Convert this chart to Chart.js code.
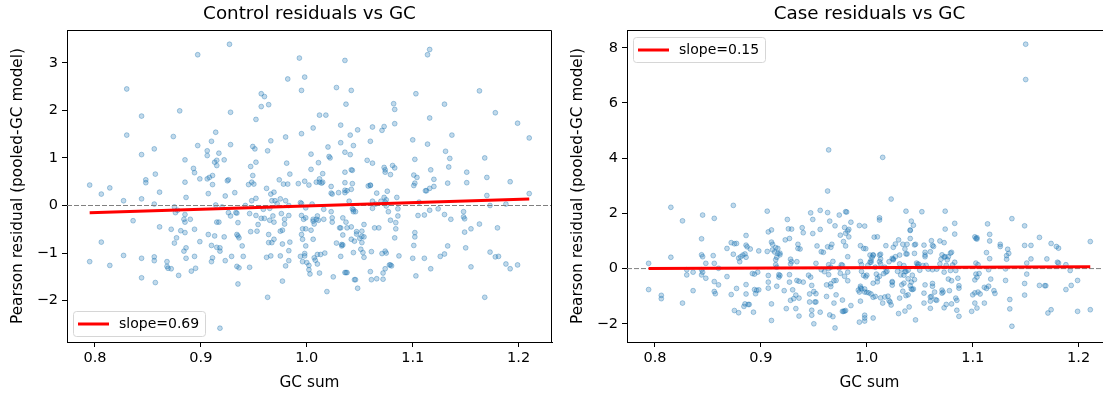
<!DOCTYPE html>
<html>
<head>
<meta charset="utf-8">
<script src="https://cdn.jsdelivr.net/npm/chart.js@4.4.1/dist/chart.umd.min.js"></script>
<style>
  html, body { margin: 0; padding: 0; background: #fff; overflow: hidden; }
  #wrap { position: relative; width: 1103px; height: 395px; overflow: hidden; }
  .panel { position: absolute; top: 0; width: 560px; height: 395px; }
</style>
</head>
<body>
<div id="wrap">
  <div class="panel" style="left:0"><canvas id="controlChart" width="560" height="395"></canvas></div>
  <div class="panel" style="left:560px"><canvas id="caseChart" width="560" height="395"></canvas></div>
</div>
<script>
// GC sum vs Pearson residual
const controlPoints = [
  [0.795,0.43],[0.795,-1.18],[0.806,0.24],[0.806,-0.77],[0.814,0.37],[0.814,-1.26],[0.827,0.10],[0.827,-1.05],
  [0.830,2.45],[0.830,1.48],[0.836,-0.32],[0.844,1.88],[0.844,0.14],[0.844,1.07],[0.844,-1.11],[0.844,-1.52],
  [0.848,0.54],[0.848,0.48],[0.856,1.19],[0.856,0.03],[0.856,-1.08],[0.856,-1.16],[0.857,-1.62],[0.857,0.66],
  [0.861,0.28],[0.861,-0.45],[0.868,-1.18],[0.868,-1.28],[0.869,-1.32],[0.872,-0.50],[0.872,-1.33],[0.874,1.45],
  [0.875,-0.03],[0.875,-0.79],[0.876,-0.15],[0.877,-0.68],[0.878,-0.10],[0.879,-1.47],[0.880,1.99],[0.881,-0.53],
  [0.884,-0.29],[0.884,-0.96],[0.885,-0.19],[0.885,0.96],[0.885,0.49],[0.886,0.17],[0.885,-0.35],[0.885,-0.57],
  [0.886,-1.11],[0.886,-0.89],[0.890,-0.29],[0.891,-1.38],[0.893,0.78],[0.894,0.69],[0.894,-0.50],[0.894,-1.07],
  [0.895,-1.32],[0.897,3.17],[0.897,1.26],[0.899,0.56],[0.899,-0.76],[0.906,1.05],[0.906,1.15],[0.906,0.56],
  [0.907,0.25],[0.907,-0.61],[0.908,0.59],[0.910,1.35],[0.910,-1.18],[0.910,-0.84],[0.911,0.63],[0.911,-1.10],
  [0.911,0.44],[0.913,0.91],[0.913,-0.64],[0.914,1.54],[0.914,0.01],[0.915,0.84],[0.915,0.95],[0.915,-0.35],
  [0.915,-0.88],[0.917,1.10],[0.917,-0.35],[0.918,-0.89],[0.918,-2.58],[0.918,-0.96],[0.920,-0.03],[0.922,0.96],
  [0.922,-0.66],[0.923,-1.16],[0.923,0.20],[0.925,0.52],[0.926,0.54],[0.927,3.39],[0.926,-0.15],[0.928,1.96],
  [0.928,1.28],[0.928,-0.22],[0.929,-1.07],[0.932,0.27],[0.933,-0.15],[0.934,-1.28],[0.934,-0.61],[0.934,-0.16],
  [0.935,-0.64],[0.935,-1.65],[0.935,-0.36],[0.936,-0.68],[0.936,-1.31],[0.939,-0.85],[0.940,-1.07],[0.942,0.00],
  [0.945,0.44],[0.946,-0.17],[0.946,-1.30],[0.947,-0.55],[0.947,0.82],[0.948,0.10],[0.948,0.49],[0.949,1.24],
  [0.949,0.63],[0.950,0.45],[0.951,1.19],[0.952,1.81],[0.952,-0.21],[0.952,0.15],[0.952,0.91],[0.953,-0.54],
  [0.954,-0.40],[0.957,2.35],[0.957,2.08],[0.957,-0.27],[0.959,-0.08],[0.960,2.29],[0.960,-0.27],[0.962,0.36],
  [0.962,-1.09],[0.963,1.15],[0.964,2.12],[0.963,-1.93],[0.964,-0.78],[0.964,-0.61],[0.965,-0.31],[0.965,-0.06],
  [0.966,0.24],[0.966,1.36],[0.966,-1.06],[0.967,-0.78],[0.967,0.10],[0.968,-0.22],[0.969,0.28],[0.969,-0.35],
  [0.969,-0.71],[0.970,0.10],[0.972,0.04],[0.974,0.54],[0.975,0.14],[0.975,-0.54],[0.975,-1.06],[0.976,-0.17],
  [0.977,-0.52],[0.977,-0.81],[0.977,-1.59],[0.978,0.45],[0.979,-0.29],[0.979,-0.39],[0.980,1.44],[0.980,0.10],
  [0.980,-1.27],[0.981,0.89],[0.982,0.45],[0.982,2.66],[0.983,0.00],[0.983,-0.21],[0.983,-0.95],[0.983,-1.16],
  [0.984,0.66],[0.984,-0.77],[0.992,0.46],[0.993,3.10],[0.994,-1.07],[0.994,0.06],[0.995,2.42],[0.995,1.51],
  [0.995,0.04],[0.995,-0.21],[0.995,-0.61],[0.996,-1.18],[0.996,-0.49],[0.996,-0.71],[0.997,-0.29],[0.998,-1.06],
  [0.998,-1.01],[0.998,0.51],[0.998,2.70],[0.999,-0.26],[0.999,-0.85],[0.999,-0.05],[0.999,-0.49],[1.000,-1.20],
  [1.002,0.43],[1.002,-1.26],[1.002,-1.35],[1.003,-1.44],[1.004,0.76],[1.004,1.08],[1.004,-0.52],[1.005,0.03],
  [1.006,1.63],[1.006,-0.29],[1.006,-0.33],[1.006,-0.71],[1.007,-0.39],[1.007,-1.10],[1.008,-1.15],[1.009,-0.29],
  [1.009,0.49],[1.010,-1.03],[1.010,-1.23],[1.010,-0.22],[1.011,0.90],[1.011,-0.31],[1.012,0.49],[1.012,1.90],
  [1.012,-1.42],[1.012,0.56],[1.013,-1.03],[1.014,0.47],[1.015,0.67],[1.015,0.49],[1.016,-0.29],[1.016,-0.08],
  [1.018,1.90],[1.017,-1.00],[1.019,-1.81],[1.020,1.23],[1.021,1.03],[1.022,1.00],[1.023,0.40],[1.023,-0.13],
  [1.023,0.26],[1.024,0.24],[1.024,-0.35],[1.024,-0.26],[1.025,-1.50],[1.028,2.48],[1.028,-0.79],[1.030,0.27],
  [1.031,-0.47],[1.032,-0.47],[1.032,1.32],[1.032,1.69],[1.032,-1.07],[1.033,-0.82],[1.033,-0.85],[1.034,-0.26],
  [1.034,-0.62],[1.034,-0.83],[1.036,0.27],[1.036,0.32],[1.036,3.05],[1.036,1.12],[1.036,0.48],[1.036,-1.41],
  [1.036,0.70],[1.037,-0.35],[1.037,2.13],[1.037,-1.41],[1.038,0.31],[1.038,-0.47],[1.038,-1.41],[1.040,0.09],
  [1.041,1.48],[1.041,1.07],[1.042,2.42],[1.042,0.34],[1.042,-0.45],[1.042,0.75],[1.042,-0.71],[1.043,0.46],
  [1.043,-0.07],[1.043,0.74],[1.044,-0.99],[1.044,-0.13],[1.044,1.26],[1.044,-0.09],[1.045,-1.56],[1.045,-0.75],
  [1.046,-1.56],[1.046,-0.13],[1.047,-0.60],[1.047,-0.55],[1.048,1.59],[1.048,-1.74],[1.050,-0.69],[1.051,-0.92],
  [1.052,-0.54],[1.052,-0.65],[1.052,-0.78],[1.053,-0.99],[1.054,-0.40],[1.054,-0.66],[1.054,-1.09],[1.057,0.95],
  [1.058,0.41],[1.060,-1.39],[1.060,0.43],[1.060,1.35],[1.060,0.42],[1.061,-0.97],[1.061,-1.56],[1.062,0.09],
  [1.062,-0.06],[1.062,0.89],[1.062,1.65],[1.064,-0.47],[1.065,0.03],[1.066,0.26],[1.066,-1.54],[1.068,-0.47],
  [1.070,0.09],[1.071,1.58],[1.071,-1.01],[1.072,-1.55],[1.072,-1.42],[1.073,1.66],[1.073,0.17],[1.073,0.80],
  [1.074,0.75],[1.074,0.70],[1.074,0.07],[1.074,-0.96],[1.074,-1.33],[1.075,-0.01],[1.075,-1.00],[1.075,0.12],
  [1.076,0.30],[1.077,-0.13],[1.078,-1.25],[1.079,-1.25],[1.079,-0.31],[1.079,0.65],[1.080,-1.27],[1.081,0.84],
  [1.082,2.14],[1.083,2.02],[1.083,0.79],[1.083,1.72],[1.083,-0.68],[1.084,-0.36],[1.084,-0.49],[1.085,0.17],
  [1.086,-0.07],[1.086,-0.22],[1.087,-1.06],[1.100,1.38],[1.100,-1.11],[1.101,0.64],[1.101,-0.84],[1.101,0.42],
  [1.102,-0.57],[1.102,0.47],[1.102,0.97],[1.102,-0.66],[1.103,2.35],[1.103,-1.48],[1.104,0.59],[1.105,-0.21],
  [1.106,0.07],[1.111,-1.11],[1.111,-0.20],[1.112,0.31],[1.113,0.31],[1.114,1.29],[1.114,3.17],[1.116,3.28],
  [1.116,0.36],[1.116,1.84],[1.116,-0.10],[1.117,0.75],[1.117,-1.33],[1.120,0.40],[1.120,0.55],[1.124,-0.07],
  [1.126,-1.07],[1.130,-1.02],[1.130,-0.19],[1.130,2.13],[1.131,1.14],[1.133,-0.85],[1.133,0.47],[1.134,0.81],
  [1.135,0.99],[1.136,-0.29],[1.137,1.48],[1.148,-0.13],[1.148,-0.24],[1.149,-0.28],[1.149,-0.56],[1.150,-0.89],
  [1.151,0.70],[1.151,0.48],[1.155,-0.49],[1.155,-1.29],[1.163,-0.39],[1.163,2.41],[1.168,1.00],[1.168,-1.93],
  [1.170,0.59],[1.170,0.21],[1.173,0.00],[1.173,-0.98],[1.178,1.95],[1.178,-1.08],[1.180,-0.47],[1.181,-1.07],
  [1.188,0.03],[1.188,-1.23],[1.192,-1.33],[1.192,0.50],[1.199,1.73],[1.199,-1.25],[1.210,1.42],[1.210,0.25]
];

const casePoints = [
  [0.794,0.19],[0.794,-0.76],[0.806,-0.97],[0.806,-1.09],[0.815,2.22],[0.815,0.41],[0.826,1.73],[0.826,-1.25],
  [0.830,-0.04],[0.830,-0.23],[0.836,-0.13],[0.836,-0.80],[0.844,-0.04],[0.844,-0.23],[0.844,1.08],[0.844,0.50],
  [0.845,1.94],[0.845,0.43],[0.845,-0.13],[0.848,-0.35],[0.848,0.19],[0.855,0.47],[0.856,1.82],[0.856,0.19],
  [0.856,-0.47],[0.856,-0.83],[0.857,-0.91],[0.860,-0.59],[0.860,0.01],[0.868,-0.29],[0.868,0.73],[0.872,0.94],
  [0.872,-0.94],[0.874,0.52],[0.874,2.29],[0.875,-1.52],[0.875,0.90],[0.877,-0.72],[0.877,0.91],[0.879,-1.60],
  [0.879,0.38],[0.880,0.25],[0.881,0.43],[0.883,0.49],[0.884,-1.37],[0.885,0.53],[0.885,-1.28],[0.886,-0.58],
  [0.886,1.20],[0.886,0.85],[0.886,0.41],[0.886,-0.92],[0.887,0.79],[0.888,-1.30],[0.889,-1.30],[0.890,0.71],
  [0.892,-0.18],[0.893,-1.58],[0.894,-0.20],[0.894,-0.76],[0.895,-0.91],[0.896,-0.79],[0.897,-0.13],[0.898,0.64],
  [0.898,-0.77],[0.906,2.08],[0.906,0.62],[0.907,-0.25],[0.907,-0.49],[0.907,1.33],[0.907,-0.71],[0.910,-1.88],
  [0.910,-1.28],[0.910,0.96],[0.910,1.40],[0.911,0.88],[0.911,0.68],[0.913,0.60],[0.914,0.76],[0.914,0.14],
  [0.914,0.32],[0.915,0.05],[0.915,0.41],[0.915,-0.64],[0.916,0.73],[0.916,0.55],[0.917,-0.31],[0.917,-0.22],
  [0.918,0.50],[0.918,0.56],[0.918,-0.25],[0.922,-0.80],[0.923,1.04],[0.924,-1.45],[0.925,1.78],[0.926,1.44],
  [0.927,-0.22],[0.927,-0.49],[0.927,1.09],[0.928,0.34],[0.928,0.17],[0.928,-1.15],[0.929,1.43],[0.929,0.25],
  [0.930,-0.77],[0.931,-1.09],[0.933,-1.45],[0.933,-0.96],[0.934,0.25],[0.934,-0.43],[0.935,0.88],[0.935,0.73],
  [0.936,-0.46],[0.936,-1.07],[0.936,-1.72],[0.937,0.71],[0.939,1.48],[0.940,1.30],[0.940,-0.49],[0.945,-0.24],
  [0.946,-1.21],[0.946,-0.92],[0.947,-0.31],[0.947,2.02],[0.948,-1.51],[0.948,-1.69],[0.948,-0.61],[0.949,1.27],
  [0.949,1.78],[0.950,-2.00],[0.950,-0.83],[0.951,-1.21],[0.952,-0.91],[0.952,-1.21],[0.952,0.19],[0.953,0.82],
  [0.956,1.42],[0.956,-1.58],[0.956,2.11],[0.957,0.61],[0.957,-0.04],[0.959,0.59],[0.960,-0.11],[0.962,-0.59],
  [0.962,-1.01],[0.963,2.81],[0.963,2.03],[0.963,0.79],[0.964,-0.22],[0.964,4.30],[0.964,0.14],[0.964,0.00],
  [0.965,1.72],[0.965,-1.68],[0.966,-0.55],[0.966,-0.65],[0.966,0.77],[0.966,0.05],[0.967,0.88],[0.968,0.26],
  [0.968,-1.74],[0.969,-1.25],[0.969,-0.44],[0.970,-2.15],[0.970,1.55],[0.971,-0.43],[0.971,-0.95],[0.974,0.02],
  [0.974,1.94],[0.975,1.21],[0.975,-0.17],[0.976,0.14],[0.977,-1.55],[0.977,0.12],[0.977,-1.14],[0.978,-1.55],
  [0.978,0.98],[0.979,-0.28],[0.979,-1.54],[0.979,1.49],[0.980,0.82],[0.980,1.28],[0.980,2.06],[0.980,-1.52],
  [0.981,2.05],[0.982,0.43],[0.982,1.36],[0.982,-0.13],[0.982,-0.44],[0.983,1.15],[0.983,1.42],[0.985,-1.34],
  [0.985,1.68],[0.992,-0.78],[0.993,1.56],[0.993,-1.94],[0.993,-0.85],[0.994,-0.64],[0.994,0.26],[0.994,-0.70],
  [0.994,0.83],[0.994,-1.18],[0.995,0.14],[0.995,-0.73],[0.995,-0.10],[0.997,-0.25],[0.997,0.73],[0.998,1.54],
  [0.998,-1.69],[0.998,-0.74],[0.998,-1.90],[0.998,-1.79],[0.998,-0.85],[0.999,-0.30],[0.999,0.72],[1.000,-0.86],
  [1.000,-0.24],[1.001,0.12],[1.002,-0.88],[1.003,0.49],[1.003,0.23],[1.004,0.23],[1.004,0.30],[1.004,-0.92],
  [1.005,0.41],[1.006,-1.04],[1.006,-1.79],[1.006,0.48],[1.006,-0.53],[1.006,0.50],[1.007,1.14],[1.008,0.05],
  [1.008,-1.01],[1.009,-0.20],[1.010,-0.35],[1.010,-0.48],[1.010,1.15],[1.012,0.25],[1.012,-0.28],[1.012,1.76],
  [1.012,1.84],[1.012,0.49],[1.013,0.52],[1.013,0.17],[1.013,0.35],[1.013,-1.06],[1.015,4.03],[1.015,-1.25],
  [1.016,-0.18],[1.017,0.05],[1.017,-1.03],[1.018,-0.13],[1.018,0.83],[1.019,-0.10],[1.020,-1.00],[1.021,-1.16],
  [1.021,0.25],[1.022,-1.21],[1.023,-1.32],[1.023,2.52],[1.024,0.37],[1.024,-0.50],[1.024,-0.60],[1.024,-0.47],
  [1.025,0.77],[1.025,0.32],[1.025,0.35],[1.027,0.43],[1.027,0.89],[1.029,-0.10],[1.030,-1.63],[1.030,1.04],
  [1.031,0.49],[1.031,-1.07],[1.031,0.17],[1.032,-0.23],[1.033,-0.59],[1.033,-0.02],[1.034,0.88],[1.034,-0.82],
  [1.035,-0.53],[1.035,-0.24],[1.035,0.11],[1.036,-1.54],[1.036,0.71],[1.036,-0.11],[1.037,0.53],[1.037,2.08],
  [1.037,-0.11],[1.037,-0.98],[1.038,0.88],[1.038,0.53],[1.039,-0.95],[1.039,-0.37],[1.039,-0.06],[1.040,-1.39],
  [1.041,1.09],[1.041,1.38],[1.041,-0.62],[1.041,1.40],[1.042,-0.49],[1.042,-0.74],[1.042,1.72],[1.043,-0.76],
  [1.043,-0.24],[1.044,-0.74],[1.044,1.57],[1.045,0.55],[1.045,-0.40],[1.045,0.86],[1.046,0.88],[1.046,-1.86],
  [1.047,0.20],[1.048,0.16],[1.048,0.08],[1.049,0.16],[1.050,-0.06],[1.052,2.06],[1.053,0.11],[1.054,-0.89],
  [1.054,0.85],[1.054,-1.25],[1.055,0.49],[1.055,0.43],[1.055,-0.59],[1.055,0.59],[1.056,0.12],[1.058,-0.02],
  [1.060,0.61],[1.060,-1.18],[1.060,-1.44],[1.060,-1.03],[1.061,-1.01],[1.061,1.01],[1.062,-0.64],[1.062,0.84],
  [1.062,-0.04],[1.062,-0.54],[1.063,0.80],[1.064,-0.85],[1.065,-1.13],[1.066,-0.02],[1.066,-1.15],[1.069,1.00],
  [1.069,0.17],[1.070,0.34],[1.071,0.50],[1.071,-0.78],[1.071,-0.89],[1.072,-0.85],[1.073,-0.13],[1.073,0.94],
  [1.073,0.42],[1.073,-1.42],[1.074,2.08],[1.074,0.43],[1.074,1.43],[1.075,-1.30],[1.075,0.12],[1.076,0.32],
  [1.077,-0.38],[1.077,0.43],[1.078,-0.80],[1.079,0.56],[1.079,-0.07],[1.080,0.59],[1.080,-1.28],[1.080,-0.44],
  [1.081,0.13],[1.083,0.23],[1.083,1.64],[1.083,1.25],[1.084,-0.07],[1.084,-1.07],[1.085,-1.51],[1.085,-1.15],
  [1.086,-0.35],[1.087,-0.71],[1.087,-1.73],[1.087,-0.62],[1.099,-1.55],[1.100,-0.95],[1.102,-0.88],[1.102,-0.41],
  [1.102,-1.25],[1.102,1.15],[1.103,1.09],[1.103,-0.20],[1.103,0.20],[1.104,1.12],[1.104,-1.43],[1.104,1.07],
  [1.104,-0.31],[1.105,-0.85],[1.105,0.14],[1.106,-0.18],[1.107,-0.92],[1.111,-1.25],[1.111,-0.68],[1.113,0.58],
  [1.113,-0.72],[1.114,1.62],[1.115,-0.64],[1.115,-0.04],[1.116,1.24],[1.116,1.00],[1.116,0.36],[1.117,-0.38],
  [1.120,-0.80],[1.121,-0.90],[1.126,0.80],[1.126,0.88],[1.131,-0.01],[1.131,-0.43],[1.132,0.34],[1.132,0.47],
  [1.133,0.70],[1.134,0.55],[1.135,-1.12],[1.135,-1.46],[1.137,1.81],[1.137,-2.09],[1.149,1.55],[1.149,0.84],
  [1.149,-0.54],[1.149,-0.96],[1.150,8.13],[1.150,6.85],[1.151,0.20],[1.151,-0.20],[1.155,0.84],[1.155,0.35],
  [1.163,1.13],[1.163,-0.61],[1.168,-0.62],[1.169,-0.62],[1.170,0.35],[1.171,-1.61],[1.174,-1.49],[1.174,0.91],
  [1.179,0.80],[1.180,0.23],[1.181,0.74],[1.181,0.20],[1.188,-0.76],[1.188,0.14],[1.192,-0.07],[1.193,-0.61],
  [1.199,-0.43],[1.199,-1.55],[1.211,0.98],[1.211,-1.49]
];

// OLS fits shown in the legends
const controlFit = { slope: 0.69, intercept: -0.699 };
const caseFit = { slope: 0.15, intercept: -0.119 };

const xTicks = [0.8, 0.9, 1.0, 1.1, 1.2];
const controlYTicks = [-2, -1, 0, 1, 2, 3];
const caseYTicks = [-2, 0, 2, 4, 6, 8];

const FONT = 'DejaVu Sans';

function fmtNum(v, digits) {
  const s = Math.abs(v).toFixed(digits);
  return v < 0 ? '\u2212' + s : s;
}

function fitLine(points, fit) {
  const xs = points.map(p => p[0]);
  const lo = Math.min(...xs), hi = Math.max(...xs);
  return [lo, hi].map(x => ({ x, y: fit.intercept + fit.slope * x }));
}

// titles, frame and legend drawn on top like matplotlib
const decorPlugin = {
  id: 'decor',
  afterDraw(chart, args, opts) {
    const ctx = chart.ctx;
    const a = chart.chartArea;
    ctx.save();
    ctx.fillStyle = '#000';
    ctx.textAlign = 'center';
    ctx.textBaseline = 'middle';
    ctx.font = '18.3px "' + FONT + '"';
    ctx.fillText(opts.title, (a.left + a.right) / 2, 14);

    ctx.font = '15.3px "' + FONT + '"';
    ctx.fillText(opts.xLabel, (a.left + a.right) / 2, 383);
    ctx.save();
    ctx.translate(18, (a.top + a.bottom) / 2);
    ctx.rotate(-Math.PI / 2);
    ctx.fillText(opts.yLabel, 0, 0);
    ctx.restore();

    // top and right spines
    ctx.strokeStyle = '#000';
    ctx.lineWidth = 1;
    ctx.beginPath();
    const t = Math.round(a.top) + 0.5, r = Math.round(a.right) - 0.5;
    ctx.moveTo(Math.round(a.left), t);
    ctx.lineTo(r, t);
    ctx.lineTo(r, Math.round(a.bottom));
    ctx.stroke();

    // legend
    const w = 132, h = 25;
    const lx = a.left + 6;
    const ly = opts.legendPos === 'top' ? a.top + 7 : a.bottom - 6 - h;
    ctx.beginPath();
    ctx.roundRect(lx + 0.5, ly + 0.5, w, h, 3);
    ctx.fillStyle = 'rgba(255,255,255,0.8)';
    ctx.fill();
    ctx.strokeStyle = '#d6d6d6';
    ctx.stroke();
    ctx.beginPath();
    ctx.strokeStyle = '#ff0000';
    ctx.lineWidth = 3;
    ctx.moveTo(lx + 5, ly + h / 2 + 0.5);
    ctx.lineTo(lx + 36, ly + h / 2 + 0.5);
    ctx.stroke();
    ctx.fillStyle = '#000';
    ctx.textAlign = 'left';
    ctx.font = '14px "' + FONT + '"';
    ctx.fillText(opts.legendText, lx + 46, ly + h / 2 + 1);
    ctx.restore();
  }
};

function makeChart(id, points, fit, yTicks, yMin, yMax, title, legendPos) {
  const xMin = 0.7736, xMax = 1.2315;
  return new Chart(document.getElementById(id), {
    type: 'scatter',
    data: {
      datasets: [
        {
          data: points.map(p => ({ x: p[0], y: p[1] })),
          backgroundColor: 'rgba(31,119,180,0.28)',
          borderColor: 'rgba(31,119,180,0.38)',
          borderWidth: 1,
          pointRadius: 2.4,
          order: 3,
        },
        {
          type: 'line',
          data: [{ x: xMin, y: 0 }, { x: xMax, y: 0 }],
          borderColor: '#808080',
          borderWidth: 1,
          borderDash: [5, 2],
          pointRadius: 0,
          order: 2,
        },
        {
          type: 'line',
          data: fitLine(points, fit),
          borderColor: '#ff0000',
          borderWidth: 3,
          pointRadius: 0,
          order: 1,
        },
      ],
    },
    options: {
      responsive: false,
      animation: false,
      events: [],
      devicePixelRatio: 1,
      layout: { padding: { top: 30, right: 8, left: 0, bottom: 0 } },
      plugins: {
        legend: { display: false },
        tooltip: { enabled: false },
        decor: {
          title,
          xLabel: 'GC sum',
          yLabel: 'Pearson residual (pooled-GC model)',
          legendText: 'slope=' + fit.slope.toFixed(2),
          legendPos,
        },
      },
      scales: {
        x: {
          type: 'linear',
          min: xMin,
          max: xMax,
          afterBuildTicks: s => { s.ticks = xTicks.map(v => ({ value: v })); },
          afterFit: s => { s.height = 53; },
          grid: { drawOnChartArea: false, tickLength: 5, tickColor: '#000' },
          border: { color: '#000', width: 1 },
          ticks: {
            color: '#000',
            font: { family: FONT, size: 14.5 },
            padding: 3,
            maxRotation: 0,
            callback: v => fmtNum(v, 1),
          },
        },
        y: {
          type: 'linear',
          min: yMin,
          max: yMax,
          afterBuildTicks: s => { s.ticks = yTicks.map(v => ({ value: v })); },
          afterFit: s => { s.width = 67; },
          grid: { drawOnChartArea: false, tickLength: 5, tickColor: '#000' },
          border: { color: '#000', width: 1 },
          ticks: {
            color: '#000',
            font: { family: FONT, size: 14.5 },
            padding: 4,
            callback: v => fmtNum(v, 0),
          },
        },
      },
    },
    plugins: [decorPlugin],
  });
}

makeChart('controlChart', controlPoints, controlFit, controlYTicks, -2.87, 3.69,
  'Control residuals vs GC', 'bottom');
makeChart('caseChart', casePoints, caseFit, caseYTicks, -2.66, 8.645,
  'Case residuals vs GC', 'top');
</script>
</body>
</html>
